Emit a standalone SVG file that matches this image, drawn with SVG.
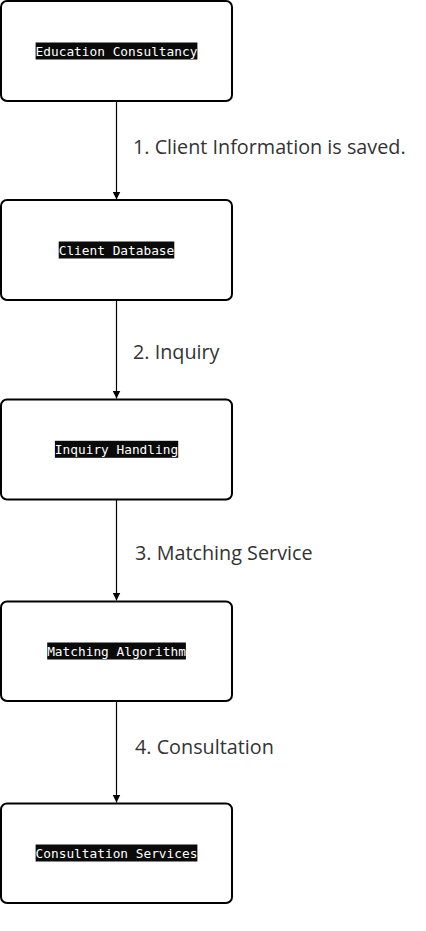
<svg xmlns="http://www.w3.org/2000/svg" width="426" height="931" viewBox="0 0 426 931">
<style>
.box{fill:#fff;stroke:#000;stroke-width:2}
.bg{fill:#0a0a0a}
.nt{font-family:"DejaVu Sans Mono","Liberation Mono",monospace;font-size:12.8px;fill:#fff;text-anchor:middle}
.edge{stroke:#000;stroke-width:1.2;fill:none;marker-end:url(#ah)}
.el{font-family:"Open Sans","Noto Sans",sans-serif;font-size:19.8px;fill:#333}
</style>
<defs>
<marker id="ah" viewBox="0 0 10 10" refX="10" refY="5" markerWidth="8" markerHeight="8" markerUnits="userSpaceOnUse" orient="auto">
<path d="M0,0 L10,5 L0,10 z" fill="#000"/>
</marker>
</defs>
<g id="connectors">
<path class="edge" d="M116.5,101 L116.5,199.5"/>
<path class="edge" d="M116.5,300 L116.5,398.5"/>
<path class="edge" d="M116.5,499.5 L116.5,600.5"/>
<path class="edge" d="M116.5,701 L116.5,802.5"/>
<text class="el" x="133" y="154">1. Client Information is saved.</text>
<text class="el" x="133" y="358.5">2. Inquiry</text>
<text class="el" x="135" y="559.5">3. Matching Service</text>
<text class="el" x="135" y="753.5">4. Consultation</text>
</g>
<g id="n1">
<rect class="box" x="1" y="1" width="231" height="100" rx="6"/>
<rect class="bg" x="35.6" y="42.5" width="161.8" height="17"/>
<text class="nt" x="116.5" y="55.5">Education Consultancy</text>
</g>
<g id="n2">
<rect class="box" x="1" y="200" width="231" height="100" rx="6"/>
<rect class="bg" x="58.7" y="241.5" width="115.6" height="17"/>
<text class="nt" x="116.5" y="254.5">Client Database</text>
</g>
<g id="n3">
<rect class="box" x="1" y="399.5" width="231" height="100" rx="6"/>
<rect class="bg" x="54.9" y="440.8" width="123.3" height="17"/>
<text class="nt" x="116.5" y="453.8">Inquiry Handling</text>
</g>
<g id="n4">
<rect class="box" x="1" y="601.5" width="231" height="99.5" rx="6"/>
<rect class="bg" x="47.2" y="642.5" width="138.7" height="17"/>
<text class="nt" x="116.5" y="655.5">Matching Algorithm</text>
</g>
<g id="n5">
<rect class="box" x="1" y="803.5" width="231" height="99.5" rx="6"/>
<rect class="bg" x="35.6" y="844.5" width="161.8" height="17"/>
<text class="nt" x="116.5" y="857.5">Consultation Services</text>
</g>
</svg>
